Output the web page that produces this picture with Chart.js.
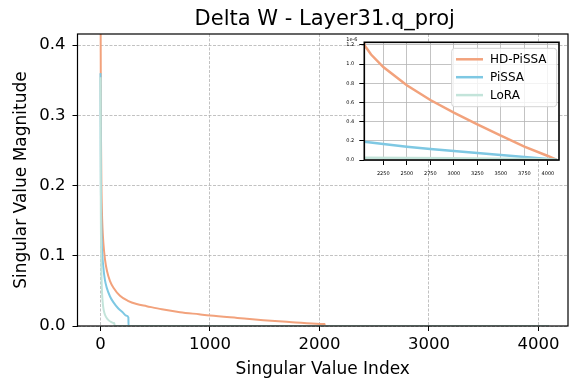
<!DOCTYPE html>
<html>
<head>
<meta charset="utf-8">
<script src="https://cdn.jsdelivr.net/npm/chart.js@4.4.1/dist/chart.umd.min.js"></script>
<style>
  html, body { margin: 0; padding: 0; background: #fff; }
  #wrap { position: relative; width: 574px; height: 383px; }
  #main { position: absolute; left: 0; top: 0; }
  #inset { position: absolute; left: 330px; top: 30px; }
</style>
</head>
<body>
<div id="wrap">
  <canvas id="main" width="574" height="383"></canvas>
  <canvas id="inset" width="240" height="160"></canvas>
</div>
<script>
const TITLE = 'Delta W - Layer31.q_proj';
const seriesNames = ['HD-PiSSA', 'PiSSA', 'LoRA'];
const seriesColors = ['#f2a27c', '#7ec8e3', '#c3e4da'];

// singular value index -> magnitude
const hdIdx = [0, 1, 2, 3, 5, 8, 12, 18, 28, 41, 60, 87, 120, 178, 250, 330, 422, 560, 726, 900, 1000, 1250, 1487, 1750, 2005, 2047,
  2048, 2120, 2250, 2500, 2750, 3000, 3250, 3500, 3750, 4000, 4095];
const hdVal = [0.62, 0.47, 0.39, 0.33, 0.26, 0.205, 0.17, 0.14, 0.115, 0.095, 0.078, 0.064, 0.054, 0.0430, 0.0358, 0.0312, 0.0282, 0.0238, 0.0197, 0.0167, 0.015, 0.0115, 0.0083, 0.0055, 0.003, 0.0027,
  1.2e-6, 1.1e-6, 0.97e-6, 0.78e-6, 0.626e-6, 0.494e-6, 0.372e-6, 0.254e-6, 0.139e-6, 0.042e-6, 0];

const piIdx = [0, 1, 2, 4, 7, 11, 17, 25, 40, 56, 87, 117, 163, 200, 239, 255,
  256, 1000, 2048, 2250, 2500, 2750, 3000, 3250, 3500, 3750, 4000, 4095];
const piVal = [0.36, 0.3, 0.25, 0.19, 0.15, 0.12, 0.1, 0.085, 0.066, 0.055, 0.042, 0.034, 0.025, 0.02, 0.0145, 0.012,
  3e-7, 2.4e-7, 0.19e-6, 0.167e-6, 0.139e-6, 0.115e-6, 0.094e-6, 0.073e-6, 0.052e-6, 0.031e-6, 0.01e-6, 0];

const loIdx = [0, 1, 2, 3, 5, 8, 12, 18, 25, 35, 50, 75, 100, 120, 127,
  128, 2048, 3000, 4000, 4095];
const loVal = [0.354, 0.27, 0.2, 0.16, 0.115, 0.08, 0.055, 0.038, 0.027, 0.019, 0.013, 0.008, 0.0055, 0.0042, 0.004,
  3e-8, 0.024e-6, 0.018e-6, 0.008e-6, 0];

const xTicks = [0, 1000, 2000, 3000, 4000];
const yTicks = [0, 0.1, 0.2, 0.3, 0.4];
const insetXTicks = [2250, 2500, 2750, 3000, 3250, 3500, 3750, 4000];
const insetYTicks = [0, 0.2, 0.4, 0.6, 0.8, 1.0, 1.2]; // times 1e-6
const INSET_SCALE = 1e-6;

Chart.defaults.font.family = "'DejaVu Sans', sans-serif";
Chart.defaults.color = '#000';

const idxs = [hdIdx, piIdx, loIdx];
const vals = [hdVal, piVal, loVal];

function makeDatasets(width, smooth) {
  return seriesNames.map((name, i) => ({
    label: name,
    data: idxs[i].map((x, j) => ({ x: x, y: vals[i][j] })),
    borderColor: seriesColors[i],
    backgroundColor: seriesColors[i],
    borderWidth: width,
    pointRadius: 0,
    fill: false,
    tension: 0,
    cubicInterpolationMode: smooth ? 'monotone' : 'default',
    order: 3 - i
  }));
}

const framePlugin = {
  id: 'frame',
  afterDraw(chart, args, opts) {
    const { ctx, chartArea: a } = chart;
    ctx.save();
    ctx.strokeStyle = '#000';
    ctx.lineWidth = opts.width;
    ctx.strokeRect(a.left, a.top, a.right - a.left, a.bottom - a.top);
    ctx.restore();
  }
};

const titlePlugin = {
  id: 'mainTitle',
  afterDraw(chart) {
    const { ctx, chartArea: a } = chart;
    ctx.save();
    ctx.fillStyle = '#000';
    ctx.font = "21px 'DejaVu Sans'";
    ctx.textAlign = 'center';
    ctx.textBaseline = 'alphabetic';
    ctx.fillText(TITLE, (a.left + a.right) / 2 + 2, 25);
    ctx.restore();
  }
};

new Chart(document.getElementById('main'), {
  type: 'line',
  data: { datasets: makeDatasets(2, true) },
  plugins: [framePlugin, titlePlugin],
  options: {
    responsive: false,
    animation: false,
    devicePixelRatio: 1,
    layout: { padding: { top: 34, right: 6, left: 0, bottom: 0 } },
    plugins: {
      legend: { display: false },
      tooltip: { enabled: false },
      frame: { width: 1.2 }
    },
    scales: {
      x: {
        type: 'linear',
        min: -210,
        max: 4270,
        afterBuildTicks: s => { s.ticks = xTicks.map(v => ({ value: v })); },
        afterFit: s => { s.height = 57; },
        ticks: { font: { size: 16.5 }, color: '#000', padding: 4, maxRotation: 0, callback: v => String(v) },
        grid: { color: '#b2b2b2', lineWidth: 0.8, tickLength: 5, tickColor: '#000', tickWidth: 1, tickBorderDash: [] },
        border: { display: false, dash: [3, 1.5] },
        title: { display: true, text: 'Singular Value Index', font: { size: 17 }, color: '#000', padding: { top: 0, bottom: 3 } }
      },
      y: {
        type: 'linear',
        min: 0,
        max: 0.4157,
        afterBuildTicks: s => { s.ticks = yTicks.map(v => ({ value: v })); },
        afterFit: s => { s.width = 77.5; },
        ticks: { font: { size: 16.5 }, color: '#000', padding: 7, callback: v => v.toFixed(1) },
        grid: { color: '#b2b2b2', lineWidth: 0.8, tickLength: 5, tickColor: '#000', tickWidth: 1, tickBorderDash: [] },
        border: { display: false, dash: [3, 1.5] },
        title: { display: true, text: 'Singular Value Magnitude', font: { size: 17 }, color: '#000', padding: { top: 11, bottom: 0 } }
      }
    }
  }
});

const insetBgPlugin = {
  id: 'insetBg',
  beforeDraw(chart) {
    const { ctx, chartArea: a } = chart;
    ctx.save();
    ctx.fillStyle = '#fff';
    ctx.fillRect(a.left, a.top, a.right - a.left, a.bottom - a.top);
    ctx.restore();
  }
};

const insetLegendPlugin = {
  id: 'insetLegend',
  afterDraw(chart) {
    const { ctx, chartArea: a } = chart;
    ctx.save();
    // offset label of the y axis
    ctx.fillStyle = '#000';
    ctx.font = "5px 'DejaVu Sans'";
    ctx.textAlign = 'left';
    ctx.textBaseline = 'alphabetic';
    ctx.fillText('1e-6', a.left - 18, a.top - 1);

    const bx = 121.7, by = 18.3, bw = 105, bh = 58.4;
    ctx.beginPath();
    ctx.roundRect(bx, by, bw, bh, 3);
    ctx.fillStyle = 'rgba(255,255,255,0.8)';
    ctx.fill();
    ctx.strokeStyle = '#d4d4d4';
    ctx.lineWidth = 1;
    ctx.stroke();

    ctx.font = "12px 'DejaVu Sans'";
    ctx.textBaseline = 'middle';
    chart.data.datasets.forEach((ds, i) => {
      const y = 29.3 + i * 17.9;
      ctx.strokeStyle = ds.borderColor;
      ctx.lineWidth = 2.5;
      ctx.beginPath();
      ctx.moveTo(126, y);
      ctx.lineTo(153, y);
      ctx.stroke();
      ctx.fillStyle = '#000';
      ctx.fillText(ds.label, 160, y + 0.5);
    });
    ctx.restore();
  }
};

new Chart(document.getElementById('inset'), {
  type: 'line',
  data: { datasets: makeDatasets(2.5, false) },
  plugins: [insetBgPlugin, framePlugin, insetLegendPlugin],
  options: {
    responsive: false,
    animation: false,
    devicePixelRatio: 1,
    layout: { padding: { top: 12.3, right: 11, left: 0, bottom: 0 } },
    plugins: {
      legend: { display: false },
      tooltip: { enabled: false },
      frame: { width: 1.6 }
    },
    scales: {
      x: {
        type: 'linear',
        min: 2048,
        max: 4118,
        afterBuildTicks: s => { s.ticks = insetXTicks.map(v => ({ value: v })); },
        afterFit: s => { s.height = 30; },
        ticks: { font: { size: 5 }, color: '#000', padding: 6, maxRotation: 0, autoSkip: false, callback: v => String(v) },
        grid: { color: '#b4b4b4', lineWidth: 0.8, tickLength: 5, tickColor: '#000', tickWidth: 1 },
        border: { display: false }
      },
      y: {
        type: 'linear',
        min: 0,
        max: 1.228e-6,
        afterBuildTicks: s => { s.ticks = insetYTicks.map(v => ({ value: v * INSET_SCALE })); },
        afterFit: s => { s.width = 34.3; },
        ticks: { font: { size: 5 }, color: '#000', padding: 5, autoSkip: false, callback: v => (v / INSET_SCALE).toFixed(1) },
        grid: { color: '#b4b4b4', lineWidth: 0.8, tickLength: 5, tickColor: '#000', tickWidth: 1 },
        border: { display: false }
      }
    }
  }
});
</script>
</body>
</html>
